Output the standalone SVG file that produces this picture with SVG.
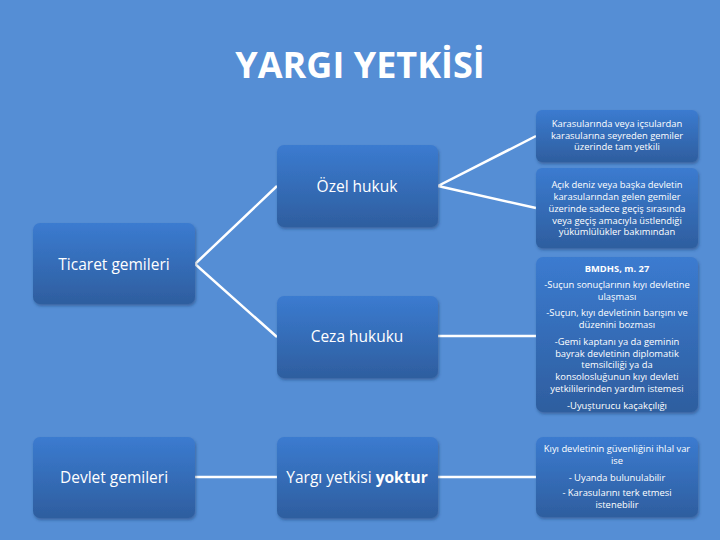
<svg xmlns="http://www.w3.org/2000/svg" width="720" height="540" viewBox="0 0 720 540">
<defs>
<linearGradient id="g" x1="0" y1="0" x2="0" y2="1">
<stop offset="0" stop-color="#3B7BD0"/>
<stop offset="1" stop-color="#2E5E9F"/>
</linearGradient>
<filter id="sh" x="-10%" y="-10%" width="125%" height="130%">
<feDropShadow dx="1" dy="2" stdDeviation="1.5" flood-color="#1c3560" flood-opacity="0.45"/>
</filter>
</defs>
<style>
.box{fill:url(#g);filter:url(#sh)}
.t{fill:#fff;font-family:"Open Sans","Liberation Sans",sans-serif;text-anchor:middle}
.m{font-size:15.5px}
.s{font-size:9.4px}
.c{stroke:#fff;stroke-width:2.5;fill:none}
</style>
<rect width="720" height="540" fill="#558ED5"/>
<text class="t" x="360" y="78" font-size="36" font-weight="bold">YARGI YETKİSİ</text>
<g id="connectors">
<polyline class="c" points="277,186 195,264 277,337"/>
<polyline class="c" points="536,136 438,186 536,208"/>
<line class="c" x1="438" y1="336" x2="536" y2="336"/>
<line class="c" x1="195" y1="477" x2="277" y2="477"/>
<line class="c" x1="438" y1="477" x2="536" y2="477"/>
</g>
<g id="ticaret"><rect class="box" x="33" y="223" width="162" height="81" rx="7"/><text class="t m" x="114" y="270">Ticaret gemileri</text></g>
<g id="devlet"><rect class="box" x="33" y="437" width="162" height="81" rx="7"/><text class="t m" x="114" y="483">Devlet gemileri</text></g>
<g id="ozel"><rect class="box" x="277" y="145" width="161" height="82" rx="7"/><text class="t m" x="357" y="192">Özel hukuk</text></g>
<g id="ceza"><rect class="box" x="277" y="296" width="161" height="82" rx="7"/><text class="t m" x="357" y="342">Ceza hukuku</text></g>
<g id="yargi"><rect class="box" x="277" y="437" width="161" height="81" rx="7"/><text class="t m" x="357" y="483">Yargı yetkisi <tspan font-weight="bold">yoktur</tspan></text></g>
<g id="r1"><rect class="box" x="536" y="110" width="162" height="52" rx="6"/>
<text class="t s" x="617"><tspan x="617" y="127">Karasularında veya içsulardan</tspan><tspan x="617" y="138.5">karasularına seyreden  gemiler</tspan><tspan x="617" y="150">üzerinde tam yetkili</tspan></text></g>
<g id="r2"><rect class="box" x="536" y="168" width="162" height="80" rx="6"/>
<text class="t s" x="617"><tspan x="617" y="188">Açık deniz veya başka devletin</tspan><tspan x="617" y="200">karasularından gelen gemiler</tspan><tspan x="617" y="212">üzerinde sadece geçiş sırasında</tspan><tspan x="617" y="223.5">veya geçiş amacıyla üstlendiği</tspan><tspan x="617" y="235">yükümlülükler bakımından</tspan></text></g>
<g id="r3"><rect class="box" x="536" y="257" width="162" height="155" rx="7"/>
<text class="t s" x="617"><tspan x="617" y="272" font-weight="bold">BMDHS, m. 27</tspan><tspan x="617" y="288">-Suçun sonuçlarının kıyı devletine</tspan><tspan x="617" y="300">ulaşması</tspan><tspan x="617" y="316">-Suçun, kıyı devletinin barışını ve</tspan><tspan x="617" y="328">düzenini bozması</tspan><tspan x="617" y="345">-Gemi kaptanı ya da geminin</tspan><tspan x="617" y="356.5">bayrak devletinin diplomatik</tspan><tspan x="617" y="368">temsilciliği ya da</tspan><tspan x="617" y="380">konsolosluğunun kıyı devleti</tspan><tspan x="617" y="392">yetkililerinden yardım istemesi</tspan><tspan x="617" y="409">-Uyuşturucu kaçakçılığı</tspan></text></g>
<g id="r4"><rect class="box" x="536" y="437" width="162" height="80" rx="7"/>
<text class="t s" x="617"><tspan x="617" y="452">Kıyı devletinin güvenliğini ihlal var</tspan><tspan x="617" y="464">ise</tspan><tspan x="617" y="481">- Uyanda bulunulabilir</tspan><tspan x="617" y="496">- Karasularını terk etmesi</tspan><tspan x="617" y="508">istenebilir</tspan></text></g>
</svg>
